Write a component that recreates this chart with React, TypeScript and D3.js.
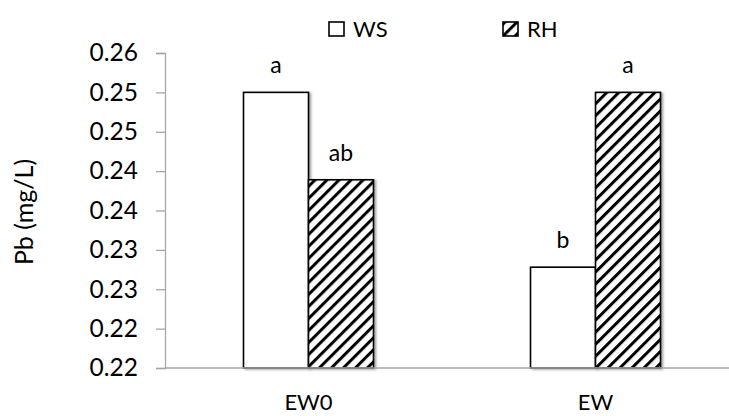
import React, { useEffect, useRef } from "react";
import * as d3 from "d3";

const categories = ["EW0", "EW"];
const series = ["WS", "RH"];
const wsValues = [0.255, 0.2328];
const rhValues = [0.2439, 0.255];
const wsLetters = ["a", "b"];
const rhLetters = ["ab", "a"];
const yTickValues = [0.22, 0.225, 0.23, 0.235, 0.24, 0.245, 0.25, 0.255, 0.26];
const yTickLabels = ["0.22", "0.22", "0.23", "0.23", "0.24", "0.24", "0.25", "0.25", "0.26"];

const App = () => {
  const ref = useRef<SVGSVGElement>(null);

  useEffect(() => {
    const width = 729;
    const height = 416;
    const left = 165;
    const right = 739;
    const top = 53;
    const bottom = 368;
    const font = "Lato, 'Open Sans', sans-serif";

    const svg = d3.select(ref.current)
      .attr("width", width)
      .attr("height", height)
      .style("position", "absolute")
      .style("left", "0px")
      .style("top", "0px");
    svg.selectAll("*").remove();

    const defs = svg.append("defs");
    // hachures
    const pat = defs.append("pattern")
      .attr("id", "hatch")
      .attr("patternUnits", "userSpaceOnUse")
      .attr("width", 8.5)
      .attr("height", 8.5)
      .attr("patternTransform", "rotate(45)");
    pat.append("rect").attr("width", 8.5).attr("height", 8.5).attr("fill", "white");
    pat.append("line")
      .attr("x1", 0).attr("y1", 0).attr("x2", 0).attr("y2", 8.5)
      .attr("stroke", "black").attr("stroke-width", 6);

    const shadow = defs.append("filter").attr("id", "shadow")
      .attr("x", "-20%").attr("y", "-20%").attr("width", "140%").attr("height", "140%");
    shadow.append("feDropShadow")
      .attr("dx", 2).attr("dy", 1).attr("stdDeviation", 1.2)
      .attr("flood-color", "#000").attr("flood-opacity", 0.35);

    const y = d3.scaleLinear().domain([0.22, 0.26]).range([bottom, top]);
    const x = d3.scaleBand<string>().domain(categories).range([left, right]);
    const po = (x.bandwidth() / 65 - 2) / 2;
    const xs = d3.scaleBand<string>().domain(series).range([0, x.bandwidth()]).paddingInner(0).paddingOuter(po);

    // axe Y
    const yAxis = d3.axisLeft(y)
      .tickValues(yTickValues)
      .tickSize(9)
      .tickPadding(18)
      .tickFormat((d, i) => yTickLabels[i]);
    const gy = svg.append("g").attr("transform", `translate(${left},0)`).call(yAxis);
    gy.select(".domain").attr("stroke", "#a6a6a6").attr("stroke-width", 1.3);
    gy.selectAll(".tick line").attr("stroke", "#a6a6a6").attr("stroke-width", 1.3);
    gy.selectAll(".tick text")
      .attr("font-family", font)
      .attr("font-size", 24.5)
      .attr("fill", "#000");

    // barres
    const data = categories.flatMap((c, i) => [
      { cat: c, s: "WS", v: wsValues[i], letter: wsLetters[i] },
      { cat: c, s: "RH", v: rhValues[i], letter: rhLetters[i] },
    ]);

    svg.append("g").selectAll("rect")
      .data(data)
      .join("rect")
      .attr("x", d => (x(d.cat) as number) + (xs(d.s) as number))
      .attr("y", d => y(d.v))
      .attr("width", xs.bandwidth())
      .attr("height", d => bottom - y(d.v))
      .attr("fill", d => (d.s === "WS" ? "white" : "url(#hatch)"))
      .attr("stroke", "black")
      .attr("stroke-width", 1.6)
      .attr("filter", "url(#shadow)");

    // axe X
    svg.append("line")
      .attr("x1", left).attr("x2", right)
      .attr("y1", bottom).attr("y2", bottom)
      .attr("stroke", "#a6a6a6").attr("stroke-width", 1.3);

    svg.append("g").selectAll("text")
      .data(categories)
      .join("text")
      .attr("x", d => (x(d) as number) + x.bandwidth() / 2)
      .attr("y", 410)
      .attr("text-anchor", "middle")
      .attr("font-family", font)
      .attr("font-size", 22)
      .text(d => d);

    // lettres
    svg.append("g").selectAll("text")
      .data(data)
      .join("text")
      .attr("x", d => (x(d.cat) as number) + (xs(d.s) as number) + xs.bandwidth() / 2)
      .attr("y", d => y(d.v) - 19)
      .attr("text-anchor", "middle")
      .attr("font-family", font)
      .attr("font-size", 23)
      .text(d => d.letter);

    // titre Y
    svg.append("text")
      .attr("transform", `translate(33,212) rotate(-90)`)
      .attr("text-anchor", "middle")
      .attr("font-family", font)
      .attr("font-size", 25)
      .text("Pb (mg/L)");

    // légende
    const legX = [329, 503];
    const leg = svg.append("g").selectAll("g")
      .data(series)
      .join("g")
      .attr("transform", (d, i) => `translate(${legX[i]},22)`);
    leg.append("rect")
      .attr("width", 15).attr("height", 14)
      .attr("fill", d => (d === "WS" ? "white" : "url(#hatch)"))
      .attr("stroke", "black").attr("stroke-width", 1.6);
    leg.append("text")
      .attr("x", 24).attr("y", 15)
      .attr("font-family", font)
      .attr("font-size", 22)
      .text(d => d);
  }, []);

  return <svg ref={ref}></svg>;
};

export default App;
